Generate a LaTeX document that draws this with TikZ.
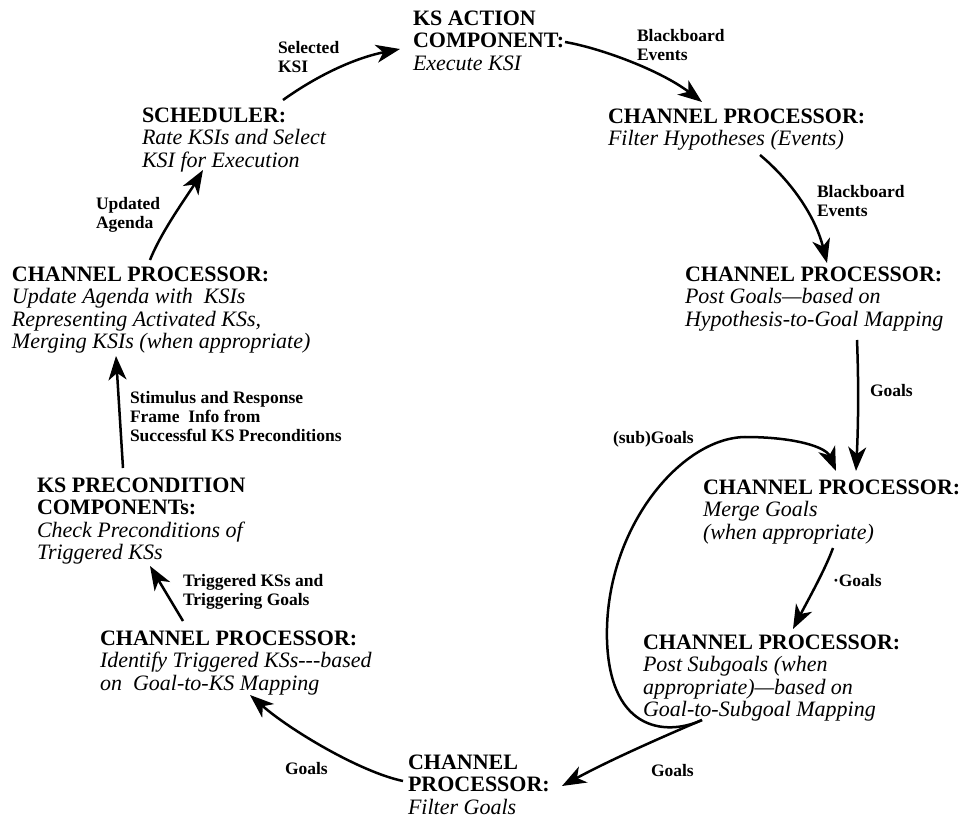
\documentclass[tikz,border=0pt]{standalone}
\usepackage{fontspec}
\setmainfont{Liberation Serif}
\usetikzlibrary{arrows.meta,calc}
\tikzset{
  box/.style={anchor=north west, inner sep=0pt, outer sep=0pt, align=left,
              font=\fontsize{22}{22.5}\selectfont},
  lbl/.style={anchor=north west, inner sep=0pt, outer sep=0pt, align=left,
              font=\bfseries\fontsize{17.5}{19}\selectfont},
  flow/.style={line width=2.5pt, -{Stealth[length=24pt,width=18pt,inset=7pt]}},
}
\begin{document}
\begin{tikzpicture}[x=1pt,y=-1pt]
\useasboundingbox (0,0) rectangle (962,818);
% process nodes
\node[box] (ksa)   at (413,10.5)  {\textbf{KS ACTION}\\\textbf{COMPONENT:}\\\textit{Execute KSI}};
\node[box] (sched) at (142,107.5) {\textbf{SCHEDULER:}\\\textit{Rate KSIs and Select}\\\textit{KSI for Execution}};
\node[box] (upd)   at (12,266.5)  {\textbf{CHANNEL PROCESSOR:}\\\textit{Update Agenda with\ \ KSIs}\\\textit{Representing Activated KSs,}\\\textit{Merging KSIs (when appropriate)}};
\node[box] (fhyp)  at (608,108.5) {\textbf{CHANNEL PROCESSOR:}\\\textit{Filter Hypotheses (Events)}};
\node[box] (pgoal) at (685,266.5) {\textbf{CHANNEL PROCESSOR:}\\\textit{Post Goals---based on}\\\textit{Hypothesis-to-Goal Mapping}};
\node[box] (merge) at (703,479.5) {\textbf{CHANNEL PROCESSOR:}\\\textit{Merge Goals}\\\textit{(when appropriate)}};
\node[box] (psub)  at (643,634.5) {\textbf{CHANNEL PROCESSOR:}\\\textit{Post Subgoals (when}\\\textit{appropriate)---based on}\\\textit{Goal-to-Subgoal Mapping}};
\node[box] (fgoal) at (408,754.5) {\textbf{CHANNEL}\\\textbf{PROCESSOR:}\\\textit{Filter Goals}};
\node[box] (ident) at (100,630.5) {\textbf{CHANNEL PROCESSOR:}\\\textit{Identify Triggered KSs-{}-{}-based}\\\textit{on\ \ Goal-to-KS Mapping}};
\node[box] (kspre) at (37,477.5)  {\textbf{KS PRECONDITION}\\\textbf{COMPONENTs:}\\\textit{Check Preconditions of}\\\textit{Triggered KSs}};
% edge labels
\node[lbl] (l1)  at (278,41)  {Selected\\KSI};
\node[lbl] (l2)  at (637,29)  {Blackboard\\Events};
\node[lbl] (l3)  at (817,185) {Blackboard\\Events};
\node[lbl] (l4)  at (870,384) {Goals};
\node[lbl] (l5)  at (613,431) {(sub)Goals};
\node[lbl] (l6)  at (833,574) {·Goals};
\node[lbl] (l7)  at (651,764) {Goals};
\node[lbl] (l8)  at (285,762) {Goals};
\node[lbl] (l9)  at (183,574) {Triggered KSs and\\Triggering Goals};
\node[lbl] (l10) at (130,391) {Stimulus and Response\\Frame\ \ Info from\\Successful KS Preconditions};
\node[lbl] (l11) at (96,197)  {Updated\\Agenda};
% connectors
\draw[flow] ($(sched.north west)+(141,-7.5)$) .. controls +(35,-25) and +(-45,9) .. ($(ksa.north west)+(-13,38.5)$);
\draw[flow] ($(ksa.north west)+(152,31.5)$) .. controls +(35,6) and +(-42,-32) .. ($(fhyp.north west)+(94,-6.5)$);
\draw[flow] ($(fhyp.north west)+(152,46.5)$) .. controls +(30,25) and +(-12,-48) .. ($(pgoal.north west)+(142,-3.5)$);
\draw[flow] ($(pgoal.north west)+(172,73.5)$) .. controls +(2,50) and +(2,-40) .. ($(merge.north west)+(153,-8.5)$);
\draw[flow] ($(psub.north west)+(59,85.5)$) .. controls (670,735) and (610,735) .. (607,640)
   .. controls (604,530) and (680,438) .. (745,437)
   .. controls (795,437) and (826,447) .. ($(merge.north west)+(133,-8.5)$);
\draw[flow] ($(merge.north west)+(130,68.5)$) .. controls +(-8,22) and +(15,-29) .. ($(psub.north west)+(150,-5.5)$);
\draw[flow] ($(psub.north west)+(59,85.5)$) .. controls +(-42,18) and +(48,-26) .. ($(fgoal.north west)+(154,31.5)$);
\draw[flow] ($(fgoal.north west)+(-5,26.5)$) .. controls +(-43,-9) and +(40,35) .. ($(ident.north west)+(150,64.5)$);
\draw[flow] ($(ident.north west)+(83,-9.5)$) -- ($(kspre.north west)+(113,88.5)$);
\draw[flow] ($(kspre.north west)+(86,-9.5)$) -- ($(upd.north west)+(104,89.5)$);
\draw[flow] ($(upd.north west)+(138,-6.5)$) .. controls +(12,-30) and +(-15,25) .. ($(sched.north west)+(61,62.5)$);
\end{tikzpicture}
\end{document}
